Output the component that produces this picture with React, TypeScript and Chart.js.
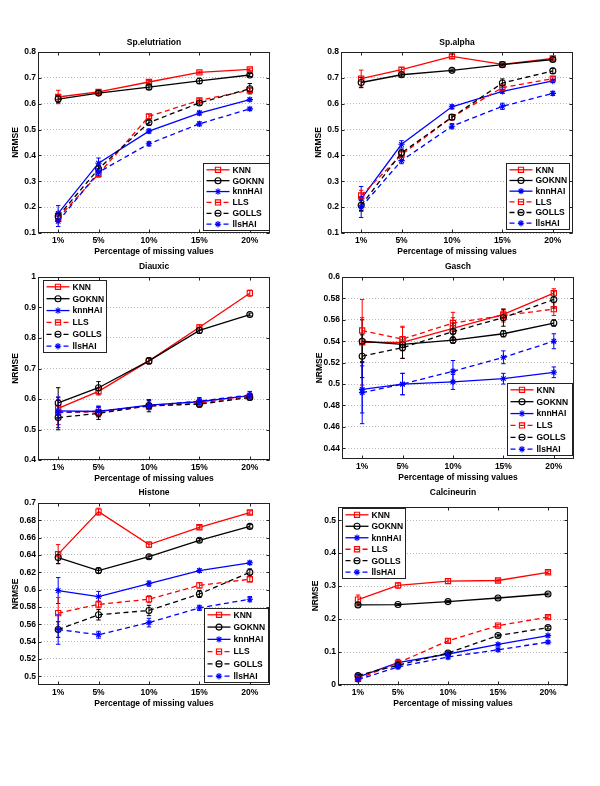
import React, { useEffect, useRef } from 'react';
import { Chart, registerables } from 'chart.js';

Chart.register(...registerables);

// ---------- shared axis data ----------
const xValues = [1, 5, 10, 15, 20];
const xTickLabels = ['1%', '5%', '10%', '15%', '20%'];
const seriesNames = ['KNN', 'GOKNN', 'knnHAI', 'LLS', 'GOLLS', 'llsHAI'];

// ---------- Sp.elutriation ----------
const elutriationMeans = [
  [0.626, 0.646, 0.684, 0.721, 0.733],
  [0.618, 0.641, 0.664, 0.688, 0.711],
  [0.176, 0.37, 0.494, 0.564, 0.616],
  [0.158, 0.328, 0.551, 0.613, 0.652],
  [0.165, 0.348, 0.527, 0.603, 0.658],
  [0.145, 0.335, 0.445, 0.522, 0.58],
];
const elutriationErrors = [
  [0.026, 0.008, 0.006, 0.005, 0.005],
  [0.014, 0.008, 0.008, 0.01, 0.006],
  [0.03, 0.02, 0.008, 0.008, 0.006],
  [0.015, 0.012, 0.008, 0.008, 0.008],
  [0.015, 0.014, 0.01, 0.008, 0.02],
  [0.02, 0.012, 0.008, 0.008, 0.006],
];
const elutriationYTicks = [0.1, 0.2, 0.3, 0.4, 0.5, 0.6, 0.7, 0.8];
const elutriationYLabels = ['0.1', '0.2', '0.3', '0.4', '0.5', '0.6', '0.7', '0.8'];

// ---------- Sp.alpha ----------
const alphaMeans = [
  [0.697, 0.732, 0.783, 0.752, 0.775],
  [0.682, 0.712, 0.729, 0.751, 0.771],
  [0.232, 0.443, 0.588, 0.648, 0.688],
  [0.245, 0.403, 0.548, 0.662, 0.697],
  [0.207, 0.41, 0.548, 0.68, 0.727],
  [0.2, 0.38, 0.513, 0.59, 0.64],
];
const alphaErrors = [
  [0.033, 0.008, 0.008, 0.005, 0.005],
  [0.02, 0.006, 0.005, 0.005, 0.006],
  [0.048, 0.014, 0.008, 0.008, 0.006],
  [0.02, 0.012, 0.01, 0.01, 0.008],
  [0.02, 0.014, 0.01, 0.016, 0.01],
  [0.04, 0.012, 0.01, 0.012, 0.008],
];
const alphaYTicks = [0.1, 0.2, 0.3, 0.4, 0.5, 0.6, 0.7, 0.8];
const alphaYLabels = ['0.1', '0.2', '0.3', '0.4', '0.5', '0.6', '0.7', '0.8'];

// ---------- Diauxic ----------
const diauxicMeans = [
  [0.569, 0.625, 0.725, 0.835, 0.947],
  [0.587, 0.637, 0.725, 0.825, 0.877],
  [0.561, 0.559, 0.58, 0.591, 0.611],
  [0.556, 0.558, 0.576, 0.587, 0.608],
  [0.539, 0.553, 0.578, 0.583, 0.605],
  [0.556, 0.56, 0.578, 0.593, 0.613],
];
const diauxicErrors = [
  [0.03, 0.012, 0.01, 0.008, 0.01],
  [0.05, 0.02, 0.01, 0.01, 0.005],
  [0.045, 0.018, 0.015, 0.01, 0.012],
  [0.04, 0.015, 0.01, 0.01, 0.01],
  [0.04, 0.02, 0.02, 0.01, 0.008],
  [0.05, 0.015, 0.012, 0.012, 0.012],
];
const diauxicYTicks = [0.4, 0.5, 0.6, 0.7, 0.8, 0.9, 1.0];
const diauxicYLabels = ['0.4', '0.5', '0.6', '0.7', '0.8', '0.9', '1'];

// ---------- Gasch ----------
const gaschMeans = [
  [0.539, 0.539, 0.552, 0.565, 0.585],
  [0.54, 0.537, 0.541, 0.547, 0.557],
  [0.495, 0.5, 0.502, 0.505, 0.511],
  [0.55, 0.542, 0.557, 0.564, 0.57],
  [0.526, 0.534, 0.549, 0.562, 0.579],
  [0.492, 0.5, 0.512, 0.525, 0.54],
];
const gaschErrors = [
  [0.04, 0.015, 0.01, 0.004, 0.004],
  [0.02, 0.003, 0.003, 0.003, 0.003],
  [0.022, 0.01, 0.007, 0.005, 0.005],
  [0.012, 0.011, 0.01, 0.006, 0.006],
  [0.02, 0.01, 0.008, 0.008, 0.008],
  [0.029, 0.01, 0.01, 0.006, 0.007],
];
const gaschYTicks = [0.44, 0.46, 0.48, 0.5, 0.52, 0.54, 0.56, 0.58, 0.6];
const gaschYLabels = ['0.44', '0.46', '0.48', '0.5', '0.52', '0.54', '0.56', '0.58', '0.6'];

// ---------- Histone ----------
const histoneMeans = [
  [0.641, 0.69, 0.652, 0.672, 0.689],
  [0.637, 0.622, 0.638, 0.657, 0.673],
  [0.599, 0.592, 0.607, 0.622, 0.631],
  [0.573, 0.583, 0.589, 0.605, 0.612],
  [0.554, 0.571, 0.576, 0.595, 0.62],
  [0.554, 0.548, 0.562, 0.579, 0.589],
];
const histoneErrors = [
  [0.011, 0.004, 0.003, 0.002, 0.002],
  [0.007, 0.003, 0.002, 0.002, 0.002],
  [0.015, 0.006, 0.003, 0.002, 0.002],
  [0.018, 0.004, 0.004, 0.003, 0.003],
  [0.009, 0.006, 0.006, 0.004, 0.004],
  [0.017, 0.004, 0.005, 0.003, 0.003],
];
const histoneYTicks = [0.5, 0.52, 0.54, 0.56, 0.58, 0.6, 0.62, 0.64, 0.66, 0.68, 0.7];
const histoneYLabels = ['0.5', '0.52', '0.54', '0.56', '0.58', '0.6', '0.62', '0.64', '0.66', '0.68', '0.7'];

// ---------- Calcineurin ----------
const calcineurinMeans = [
  [0.259, 0.302, 0.315, 0.317, 0.342],
  [0.243, 0.244, 0.253, 0.264, 0.276],
  [0.024, 0.068, 0.094, 0.123, 0.15],
  [0.019, 0.067, 0.134, 0.18, 0.206],
  [0.029, 0.06, 0.097, 0.15, 0.174],
  [0.016, 0.055, 0.085, 0.107, 0.13],
];
const calcineurinErrors = [
  [0.014, 0.008, 0.007, 0.004, 0.004],
  [0.003, 0.003, 0.003, 0.003, 0.003],
  [0.008, 0.01, 0.005, 0.004, 0.004],
  [0.005, 0.006, 0.006, 0.004, 0.004],
  [0.005, 0.006, 0.006, 0.004, 0.004],
  [0.005, 0.006, 0.006, 0.004, 0.004],
];
const calcineurinYTicks = [0, 0.1, 0.2, 0.3, 0.4, 0.5];
const calcineurinYLabels = ['0', '0.1', '0.2', '0.3', '0.4', '0.5'];

// ---------- styles ----------
const FONT = "'Liberation Sans', Arial, Helvetica, sans-serif";
const FS = 8.5;
const seriesColors = ['#ff0000', '#000000', '#0000ff', '#ff0000', '#000000', '#0000ff'];
const seriesDashed = [false, false, false, true, true, true];
const seriesMarkers = ['rect', 'circle', 'star', 'rect', 'circle', 'star'];
const DASH = [5, 3.5];

const Y_W = 38;
const X_H = 26;
const PAD_T = 22;
const PAD_R = 8;

type PanelCfg = {
  title: string;
  means: number[][];
  errors: number[][];
  yTicks: number[];
  yLabels: string[];
  yMin: number;
  yMax: number;
  L: number; T: number; R: number; B: number;
  titleY: number;
  legend: [number, number, number, number];
};

const panels: PanelCfg[] = [
  { title: 'Sp.elutriation', means: elutriationMeans, errors: elutriationErrors, yTicks: elutriationYTicks, yLabels: elutriationYLabels, yMin: 0.1, yMax: 0.8, L: 38, T: 52, R: 270, B: 233, titleY: 43, legend: [203, 163, 66, 67] },
  { title: 'Sp.alpha', means: alphaMeans, errors: alphaErrors, yTicks: alphaYTicks, yLabels: alphaYLabels, yMin: 0.1, yMax: 0.8, L: 341, T: 52, R: 573, B: 233, titleY: 43, legend: [506, 163, 63, 66] },
  { title: 'Diauxic', means: diauxicMeans, errors: diauxicErrors, yTicks: diauxicYTicks, yLabels: diauxicYLabels, yMin: 0.4, yMax: 1.0, L: 38, T: 277, R: 270, B: 460, titleY: 267, legend: [43, 280, 63, 72] },
  { title: 'Gasch', means: gaschMeans, errors: gaschErrors, yTicks: gaschYTicks, yLabels: gaschYLabels, yMin: 0.43, yMax: 0.6, L: 342, T: 277, R: 574, B: 459, titleY: 267, legend: [507, 383, 65, 72] },
  { title: 'Histone', means: histoneMeans, errors: histoneErrors, yTicks: histoneYTicks, yLabels: histoneYLabels, yMin: 0.49, yMax: 0.7, L: 38, T: 503, R: 270, B: 685, titleY: 493, legend: [204, 608, 64, 74] },
  { title: 'Calcineurin', means: calcineurinMeans, errors: calcineurinErrors, yTicks: calcineurinYTicks, yLabels: calcineurinYLabels, yMin: 0, yMax: 0.54, L: 338, T: 507, R: 568, B: 685, titleY: 493, legend: [342, 508, 63, 70] },
];

function drawMarker(ctx: CanvasRenderingContext2D, style: string, x: number, y: number, color: string) {
  ctx.save();
  ctx.strokeStyle = color;
  ctx.lineWidth = 1.1;
  ctx.setLineDash([]);
  ctx.beginPath();
  if (style === 'rect') {
    ctx.rect(x - 2.6, y - 2.6, 5.2, 5.2);
  } else if (style === 'circle') {
    ctx.arc(x, y, 3, 0, Math.PI * 2);
  } else {
    const r = 3.2;
    const d = r * Math.SQRT1_2;
    ctx.moveTo(x - r, y); ctx.lineTo(x + r, y);
    ctx.moveTo(x, y - r); ctx.lineTo(x, y + r);
    ctx.moveTo(x - d, y - d); ctx.lineTo(x + d, y + d);
    ctx.moveTo(x - d, y + d); ctx.lineTo(x + d, y - d);
  }
  ctx.stroke();
  ctx.restore();
}

const decorPlugin = {
  id: 'decor',
  beforeDatasetsDraw(chart: any) {
    const cfg: PanelCfg = chart.options.plugins.decor.cfg;
    const ctx: CanvasRenderingContext2D = chart.ctx;
    const ys = chart.scales.y;
    const area = chart.chartArea;
    ctx.save();
    ctx.beginPath();
    ctx.rect(area.left, area.top, area.right - area.left, area.bottom - area.top);
    ctx.clip();
    cfg.means.forEach((row, i) => {
      const meta = chart.getDatasetMeta(i);
      ctx.strokeStyle = seriesColors[i];
      ctx.lineWidth = 1;
      ctx.setLineDash([]);
      row.forEach((v, j) => {
        const e = cfg.errors[i][j];
        const px = meta.data[j].x;
        const y1 = ys.getPixelForValue(v + e);
        const y2 = ys.getPixelForValue(v - e);
        ctx.beginPath();
        ctx.moveTo(px, y1); ctx.lineTo(px, y2);
        ctx.moveTo(px - 2.2, y1); ctx.lineTo(px + 2.2, y1);
        ctx.moveTo(px - 2.2, y2); ctx.lineTo(px + 2.2, y2);
        ctx.stroke();
      });
    });
    ctx.restore();
  },
  afterDraw(chart: any) {
    const cfg: PanelCfg = chart.options.plugins.decor.cfg;
    const ox = cfg.L - Y_W;
    const oy = cfg.T - PAD_T;
    const ctx: CanvasRenderingContext2D = chart.ctx;
    const a = chart.chartArea;
    ctx.save();
    ctx.setLineDash([]);
    // axes box
    ctx.strokeStyle = '#222';
    ctx.lineWidth = 1;
    const l = Math.round(a.left) + 0.5, r = Math.round(a.right) - 0.5;
    const t = Math.round(a.top) + 0.5, b = Math.round(a.bottom) - 0.5;
    ctx.strokeRect(l, t, r - l, b - t);
    // inward ticks
    ctx.beginPath();
    xValues.forEach((v) => {
      const px = Math.round(chart.scales.x.getPixelForValue(v)) + 0.5;
      ctx.moveTo(px, b); ctx.lineTo(px, b - 3);
      ctx.moveTo(px, t); ctx.lineTo(px, t + 3);
    });
    cfg.yTicks.forEach((v) => {
      const py = Math.round(chart.scales.y.getPixelForValue(v)) + 0.5;
      ctx.moveTo(l, py); ctx.lineTo(l + 3, py);
      ctx.moveTo(r, py); ctx.lineTo(r - 3, py);
    });
    ctx.stroke();
    // title
    ctx.fillStyle = '#000';
    ctx.font = `bold ${FS}px ${FONT}`;
    ctx.textAlign = 'center';
    ctx.textBaseline = 'middle';
    ctx.fillText(cfg.title, (a.left + a.right) / 2, cfg.titleY - oy);
    // legend
    const [lx0, ly0, lw, lh] = cfg.legend;
    const lx = Math.round(lx0 - ox) + 0.5;
    const ly = Math.round(ly0 - oy) + 0.5;
    ctx.fillStyle = '#fff';
    ctx.fillRect(lx, ly, lw, lh);
    ctx.strokeStyle = '#222';
    ctx.strokeRect(lx, ly, lw, lh);
    const pad = 6.3;
    const step = (lh - 2 * pad) / (seriesNames.length - 1);
    seriesNames.forEach((name, i) => {
      const cy = ly + pad + i * step;
      ctx.strokeStyle = seriesColors[i];
      ctx.lineWidth = 1.3;
      ctx.setLineDash(seriesDashed[i] ? DASH : []);
      ctx.beginPath();
      ctx.moveTo(lx + 3, cy);
      ctx.lineTo(lx + 26, cy);
      ctx.stroke();
      drawMarker(ctx, seriesMarkers[i], lx + 14.5, cy, seriesColors[i]);
      ctx.fillStyle = '#000';
      ctx.textAlign = 'left';
      ctx.textBaseline = 'middle';
      ctx.font = `bold ${FS}px ${FONT}`;
      ctx.fillText(name, lx + 29, cy + 0.5);
    });
    ctx.restore();
  },
};

function Panel({ cfg }: { cfg: PanelCfg }) {
  const ref = useRef<HTMLCanvasElement>(null);
  const w = cfg.R - cfg.L + Y_W + PAD_R;
  const h = cfg.B - cfg.T + PAD_T + X_H;
  useEffect(() => {
    if (!ref.current) return;
    const datasets = cfg.means.map((row, i) => ({
      label: seriesNames[i],
      data: xValues.map((x, j) => ({ x, y: row[j] })),
      borderColor: seriesColors[i],
      backgroundColor: 'rgba(0,0,0,0)',
      borderWidth: 1.3,
      borderDash: seriesDashed[i] ? DASH : [],
      pointStyle: seriesMarkers[i],
      pointRadius: seriesMarkers[i] === 'rect' ? 3.7 : seriesMarkers[i] === 'circle' ? 3 : 3.2,
      pointBorderWidth: 1.1,
      pointBorderColor: seriesColors[i],
      pointBackgroundColor: 'rgba(0,0,0,0)',
      tension: 0,
      order: seriesNames.length - i,
    }));
    const chart = new Chart(ref.current, {
      type: 'line',
      data: { datasets },
      plugins: [decorPlugin],
      options: {
        animation: false,
        responsive: false,
        maintainAspectRatio: false,
        devicePixelRatio: 1,
        layout: { padding: { top: PAD_T, right: PAD_R, left: 0, bottom: 0 } },
        plugins: {
          legend: { display: false },
          tooltip: { enabled: false },
          title: { display: false },
          decor: { cfg },
        } as any,
        scales: {
          x: {
            type: 'linear',
            min: -1,
            max: 22,
            afterBuildTicks: (scale: any) => {
              scale.ticks = xValues.map((v) => ({ value: v }));
            },
            afterFit: (scale: any) => {
              scale.height = X_H;
            },
            ticks: {
              callback: (_v: any, i: number) => xTickLabels[i],
              font: { family: FONT, size: FS, weight: 'bold' },
              color: '#000',
              padding: 3,
              maxRotation: 0,
              autoSkip: false,
            },
            grid: { display: false, drawTicks: false },
            border: { display: false },
            title: {
              display: true,
              text: 'Percentage of missing values',
              font: { family: FONT, size: FS, weight: 'bold' },
              color: '#000',
              padding: { top: 0, bottom: 2.4 },
            },
          },
          y: {
            type: 'linear',
            min: cfg.yMin,
            max: cfg.yMax,
            afterBuildTicks: (scale: any) => {
              scale.ticks = cfg.yTicks.map((v) => ({ value: v }));
            },
            afterFit: (scale: any) => {
              scale.width = Y_W;
            },
            ticks: {
              callback: (_v: any, i: number) => cfg.yLabels[i],
              font: { family: FONT, size: FS, weight: 'bold' },
              color: '#000',
              padding: 2,
              autoSkip: false,
            },
            grid: { display: true, drawTicks: false, color: '#b8b8b8', lineWidth: 1 },
            border: { display: false, dash: [1, 2] },
            title: {
              display: true,
              text: 'NRMSE',
              font: { family: FONT, size: FS, weight: 'bold' },
              color: '#000',
              padding: { top: 11, bottom: 0 },
            },
          },
        },
      } as any,
    });
    return () => chart.destroy();
  }, []);
  return (
    <div style={{ position: 'absolute', left: cfg.L - Y_W, top: cfg.T - PAD_T, width: w, height: h }}>
      <canvas ref={ref} width={w} height={h} style={{ width: w, height: h, display: 'block' }} />
    </div>
  );
}

export default function App() {
  return (
    <div style={{ position: 'absolute', left: 0, top: 0, width: 600, height: 786, background: '#fff' }}>
      {panels.map((p) => (
        <Panel key={p.title} cfg={p} />
      ))}
    </div>
  );
}
